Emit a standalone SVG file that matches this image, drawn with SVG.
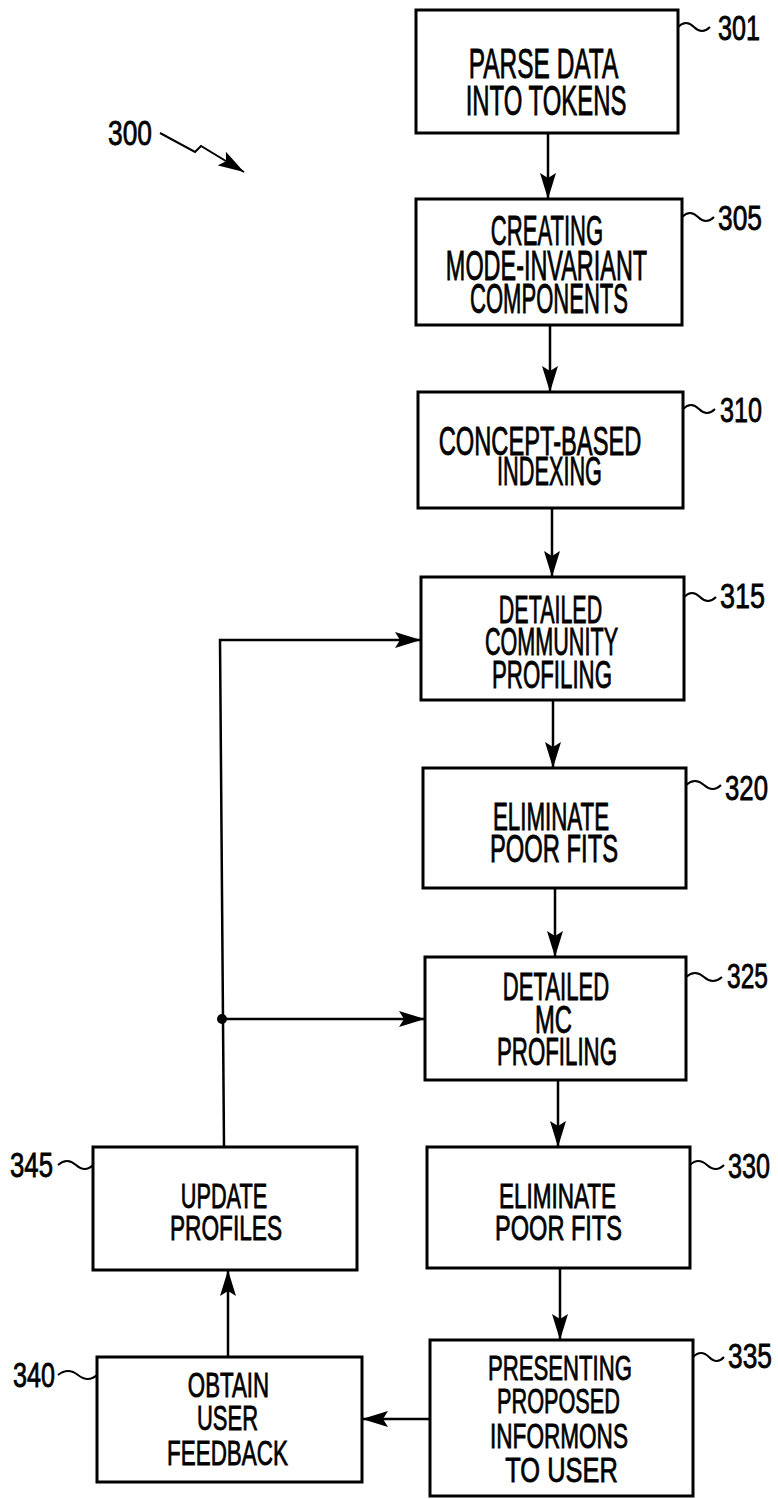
<svg xmlns="http://www.w3.org/2000/svg" width="778" height="1499" viewBox="0 0 778 1499">
<style>
rect.box{fill:#fff;stroke:#000;stroke-width:3}
.c{fill:none;stroke:#000;stroke-width:2.5}
.ld{fill:none;stroke:#000;stroke-width:2}
text{font-family:"Liberation Sans",Arial,sans-serif;fill:#000;stroke:#000;stroke-width:0.7;vector-effect:non-scaling-stroke;text-anchor:middle}
.a{font-size:43px}
.b{font-size:41px}
.d{font-size:38px}
.e{font-size:35px}
.n{font-size:35px}
</style>
<defs>
<marker id="ah" viewBox="0 0 26 16" refX="26" refY="8" markerWidth="26" markerHeight="16" markerUnits="userSpaceOnUse" orient="auto">
<path d="M0,0 L26,8 L0,16 L5,8 z" fill="#000"/>
</marker>
</defs>
<rect width="778" height="1499" fill="#fff"/>

<g id="connectors">
<path class="c" d="M548,133 L548,199" marker-end="url(#ah)"/>
<path class="c" d="M550,325 L550,392" marker-end="url(#ah)"/>
<path class="c" d="M552,508 L552,577" marker-end="url(#ah)"/>
<path class="c" d="M553,700 L553,768" marker-end="url(#ah)"/>
<path class="c" d="M555,888 L555,957" marker-end="url(#ah)"/>
<path class="c" d="M558,1080 L558,1147" marker-end="url(#ah)"/>
<path class="c" d="M560,1268 L560,1340" marker-end="url(#ah)"/>
<path class="c" d="M430,1419 L362,1419" marker-end="url(#ah)"/>
<path class="c" d="M228,1357 L228,1270" marker-end="url(#ah)"/>
<path class="c" d="M224,1147 L220,640 L421,640" marker-end="url(#ah)"/>
<path class="c" d="M222,1019 L425,1019" marker-end="url(#ah)"/>
<circle cx="222" cy="1019" r="5" fill="#000"/>
</g>

<g id="n300">
<text class="n" transform="matrix(0.753 0 0 1 130 145)">300</text>
<path class="ld" d="M160,133 L195,152 L201,146 L244,172" marker-end="url(#ah)"/>
</g>

<g id="n301">
<rect class="box" x="416" y="10" width="262" height="123"/>
<text class="a" transform="matrix(0.569 0 0 1 543.5 78)">PARSE DATA</text>
<text class="a" transform="matrix(0.556 0 0 1 546 115)">INTO TOKENS</text>
<path class="ld" d="M678,27 q8,-8 16,0 t16,0"/>
<text class="n" transform="matrix(0.719 0 0 1 739 40)">301</text>
</g>

<g id="n305">
<rect class="box" x="416" y="199" width="266" height="126"/>
<text class="a" transform="matrix(0.513 0 0 1 547 245)">CREATING</text>
<text class="a" transform="matrix(0.545 0 0 1 546.5 280)">MODE-INVARIANT</text>
<text class="a" transform="matrix(0.513 0 0 1 549 313)">COMPONENTS</text>
<path class="ld" d="M682,217 q8,-8 16,0 t16,0"/>
<text class="n" transform="matrix(0.753 0 0 1 740 230)">305</text>
</g>

<g id="n310">
<rect class="box" x="418" y="392" width="265" height="116"/>
<text class="b" transform="matrix(0.578 0 0 1 540 455)">CONCEPT-BASED</text>
<text class="b" transform="matrix(0.530 0 0 1 549.5 485)">INDEXING</text>
<path class="ld" d="M683,409 q8,-8 16,0 t16,0"/>
<text class="n" transform="matrix(0.719 0 0 1 741 422)">310</text>
</g>

<g id="n315">
<rect class="box" x="421" y="577" width="263" height="123"/>
<text class="d" transform="matrix(0.565 0 0 1 550.5 623)">DETAILED</text>
<text class="d" transform="matrix(0.568 0 0 1 551.5 655)">COMMUNITY</text>
<text class="d" transform="matrix(0.586 0 0 1 552 688)">PROFILING</text>
<path class="ld" d="M684,597 q8,-8 16,0 t16,0"/>
<text class="n" transform="matrix(0.771 0 0 1 742.5 608)">315</text>
</g>

<g id="n320">
<rect class="box" x="423" y="768" width="263" height="120"/>
<text class="d" transform="matrix(0.588 0 0 1 551 830)">ELIMINATE</text>
<text class="d" transform="matrix(0.625 0 0 1 554 862)">POOR FITS</text>
<path class="ld" d="M686,785 q9,-8 18,0 t17,0"/>
<text class="n" transform="matrix(0.736 0 0 1 746.5 800)">320</text>
</g>

<g id="n325">
<rect class="box" x="425" y="957" width="261" height="123"/>
<text class="d" transform="matrix(0.581 0 0 1 556 1000)">DETAILED</text>
<text class="d" transform="matrix(0.626 0 0 1 553.5 1033)">MC</text>
<text class="d" transform="matrix(0.586 0 0 1 557 1065)">PROFILING</text>
<path class="ld" d="M686,977 q9,-8 18,0 t18,0"/>
<text class="n" transform="matrix(0.702 0 0 1 747.5 988)">325</text>
</g>

<g id="n330">
<rect class="box" x="427" y="1147" width="263" height="121"/>
<text class="e" transform="matrix(0.644 0 0 1 557.5 1208)">ELIMINATE</text>
<text class="e" transform="matrix(0.673 0 0 1 558.5 1240)">POOR FITS</text>
<path class="ld" d="M690,1165 q8,-8 17,0 t17,0"/>
<text class="n" transform="matrix(0.719 0 0 1 749 1178)">330</text>
</g>

<g id="n335">
<rect class="box" x="430" y="1340" width="263" height="156"/>
<text class="e" transform="matrix(0.633 0 0 1 560 1380)">PRESENTING</text>
<text class="e" transform="matrix(0.620 0 0 1 558.5 1413)">PROPOSED</text>
<text class="e" transform="matrix(0.645 0 0 1 559 1448)">INFORMONS</text>
<text class="e" transform="matrix(0.726 0 0 1 561.5 1482)">TO USER</text>
<path class="ld" d="M693,1357 q8,-8 16,0 t15,0"/>
<text class="n" transform="matrix(0.753 0 0 1 750 1368)">335</text>
</g>

<g id="n345">
<rect class="box" x="93" y="1147" width="264" height="123"/>
<text class="e" transform="matrix(0.620 0 0 1 224 1208)">UPDATE</text>
<text class="e" transform="matrix(0.647 0 0 1 226 1240)">PROFILES</text>
<path class="ld" d="M58,1165 q9,-8 18,0 t17,0"/>
<text class="n" transform="matrix(0.736 0 0 1 31.5 1177)">345</text>
</g>

<g id="n340">
<rect class="box" x="97" y="1357" width="265" height="125"/>
<text class="e" transform="matrix(0.637 0 0 1 228.5 1397)">OBTAIN</text>
<text class="e" transform="matrix(0.628 0 0 1 227.5 1430)">USER</text>
<text class="e" transform="matrix(0.641 0 0 1 227.5 1465)">FEEDBACK</text>
<path class="ld" d="M58,1375 q10,-8 20,0 t19,0"/>
<text class="n" transform="matrix(0.719 0 0 1 34 1387)">340</text>
</g>
</svg>
